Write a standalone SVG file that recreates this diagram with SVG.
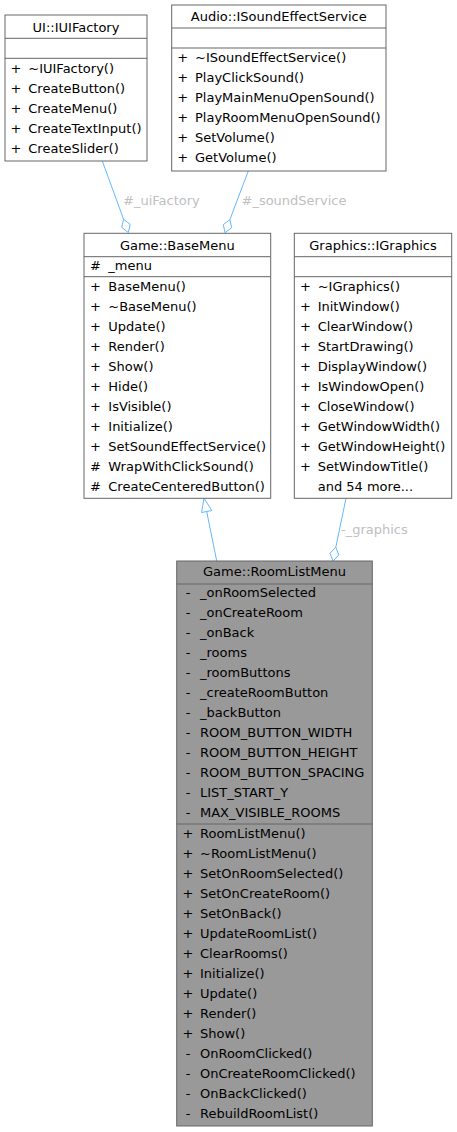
<svg xmlns="http://www.w3.org/2000/svg" width="457" height="1132" viewBox="0 0 457 1132">
<style>
text{font-family:"DejaVu Sans","Liberation Sans",sans-serif;font-size:13px;fill:#000}
.t{text-anchor:middle}
.s{text-anchor:middle}
.box{fill:#fff;stroke:#666;stroke-width:1}
.cur{fill:#999;stroke:#666;stroke-width:1}
.sep{stroke:#666;stroke-width:1;fill:none}
.e{stroke:#63b8ff;stroke-width:1;fill:none}
.ah{stroke:#63b8ff;stroke-width:1;fill:#fff}
.lbl{fill:#c0c0c0}
</style>
<g id="edges">
<path class="e" d="M102.3,161 L123.6,219.3"/>
<polygon class="ah" points="128.3,232.5 130.2,224.4 123.6,219.3 121.7,227.4"/>
<text class="lbl" x="123" y="205">#_uiFactory</text>
<path class="e" d="M248.3,171 L229.9,219.6"/>
<polygon class="ah" points="225,232.7 231.7,227.7 229.9,219.6 223.3,224.6"/>
<text class="lbl" x="241.5" y="205">#_soundService</text>
<path class="e" d="M346,498.3 L335.8,547.3"/>
<polygon class="ah" points="333,561 338.8,555 335.8,547.3 330,553.2"/>
<text class="lbl" x="341" y="533.5">-_graphics</text>
<path class="e" d="M216.7,561 L206.7,511.5"/>
<polygon class="ah" points="204,498.3 211.8,510.5 201.6,512.5"/>
</g>
<g id="IUIFactory">
<rect class="box" x="5" y="15" width="142" height="146"/>
<path class="sep" d="M5,38.3H147M5,58.3H147"/>
<text class="t" x="76" y="31.5">UI::IUIFactory</text>
<text class="s" x="16" y="72.5">+</text><text x="28.3" y="72.5">~IUIFactory()</text>
<text class="s" x="16" y="92.5">+</text><text x="28.3" y="92.5">CreateButton()</text>
<text class="s" x="16" y="112.5">+</text><text x="28.3" y="112.5">CreateMenu()</text>
<text class="s" x="16" y="132.5">+</text><text x="28.3" y="132.5">CreateTextInput()</text>
<text class="s" x="16" y="152.5">+</text><text x="28.3" y="152.5">CreateSlider()</text>
</g>
<g id="ISoundEffectService">
<rect class="box" x="171.7" y="5" width="214.3" height="166"/>
<path class="sep" d="M171.7,28H386M171.7,48H386"/>
<text class="t" x="278.8" y="21">Audio::ISoundEffectService</text>
<text class="s" x="182.7" y="62">+</text><text x="195" y="62">~ISoundEffectService()</text>
<text class="s" x="182.7" y="82">+</text><text x="195" y="82">PlayClickSound()</text>
<text class="s" x="182.7" y="102">+</text><text x="195" y="102">PlayMainMenuOpenSound()</text>
<text class="s" x="182.7" y="122">+</text><text x="195" y="122">PlayRoomMenuOpenSound()</text>
<text class="s" x="182.7" y="142">+</text><text x="195" y="142">SetVolume()</text>
<text class="s" x="182.7" y="162">+</text><text x="195" y="162">GetVolume()</text>
</g>
<g id="BaseMenu">
<rect class="box" x="84" y="233.3" width="186.7" height="265"/>
<path class="sep" d="M84,256.7H270.7M84,276.7H270.7"/>
<text class="t" x="177.3" y="250">Game::BaseMenu</text>
<text class="s" x="95.5" y="270.2">#</text><text x="108.3" y="270.2">_menu</text>
<text class="s" x="95.5" y="290.5">+</text><text x="108.3" y="290.5">BaseMenu()</text>
<text class="s" x="95.5" y="310.5">+</text><text x="108.3" y="310.5">~BaseMenu()</text>
<text class="s" x="95.5" y="330.5">+</text><text x="108.3" y="330.5">Update()</text>
<text class="s" x="95.5" y="350.5">+</text><text x="108.3" y="350.5">Render()</text>
<text class="s" x="95.5" y="370.5">+</text><text x="108.3" y="370.5">Show()</text>
<text class="s" x="95.5" y="390.5">+</text><text x="108.3" y="390.5">Hide()</text>
<text class="s" x="95.5" y="410.5">+</text><text x="108.3" y="410.5">IsVisible()</text>
<text class="s" x="95.5" y="430.5">+</text><text x="108.3" y="430.5">Initialize()</text>
<text class="s" x="95.5" y="450.5">+</text><text x="108.3" y="450.5">SetSoundEffectService()</text>
<text class="s" x="95.5" y="470.5">#</text><text x="108.3" y="470.5">WrapWithClickSound()</text>
<text class="s" x="95.5" y="490.5">#</text><text x="108.3" y="490.5">CreateCenteredButton()</text>
</g>
<g id="IGraphics">
<rect class="box" x="294.3" y="233.3" width="157.4" height="265"/>
<path class="sep" d="M294.3,256.7H451.7M294.3,276.7H451.7"/>
<text class="t" x="373" y="250">Graphics::IGraphics</text>
<text class="s" x="305.5" y="290.5">+</text><text x="317.7" y="290.5">~IGraphics()</text>
<text class="s" x="305.5" y="310.5">+</text><text x="317.7" y="310.5">InitWindow()</text>
<text class="s" x="305.5" y="330.5">+</text><text x="317.7" y="330.5">ClearWindow()</text>
<text class="s" x="305.5" y="350.5">+</text><text x="317.7" y="350.5">StartDrawing()</text>
<text class="s" x="305.5" y="370.5">+</text><text x="317.7" y="370.5">DisplayWindow()</text>
<text class="s" x="305.5" y="390.5">+</text><text x="317.7" y="390.5">IsWindowOpen()</text>
<text class="s" x="305.5" y="410.5">+</text><text x="317.7" y="410.5">CloseWindow()</text>
<text class="s" x="305.5" y="430.5">+</text><text x="317.7" y="430.5">GetWindowWidth()</text>
<text class="s" x="305.5" y="450.5">+</text><text x="317.7" y="450.5">GetWindowHeight()</text>
<text class="s" x="305.5" y="470.5">+</text><text x="317.7" y="470.5">SetWindowTitle()</text>
<text x="317.7" y="490.5">and 54 more...</text>
</g>
<g id="RoomListMenu">
<rect class="cur" x="176.7" y="561" width="195.6" height="565"/>
<path class="sep" d="M176.7,584H372.3M176.7,824H372.3"/>
<text class="t" x="274.5" y="576">Game::RoomListMenu</text>
<text class="s" x="188" y="597">-</text><text x="200" y="597">_onRoomSelected</text>
<text class="s" x="188" y="617">-</text><text x="200" y="617">_onCreateRoom</text>
<text class="s" x="188" y="637">-</text><text x="200" y="637">_onBack</text>
<text class="s" x="188" y="657">-</text><text x="200" y="657">_rooms</text>
<text class="s" x="188" y="677">-</text><text x="200" y="677">_roomButtons</text>
<text class="s" x="188" y="697">-</text><text x="200" y="697">_createRoomButton</text>
<text class="s" x="188" y="717">-</text><text x="200" y="717">_backButton</text>
<text class="s" x="188" y="737">-</text><text x="200" y="737">ROOM_BUTTON_WIDTH</text>
<text class="s" x="188" y="757">-</text><text x="200" y="757">ROOM_BUTTON_HEIGHT</text>
<text class="s" x="188" y="777">-</text><text x="200" y="777">ROOM_BUTTON_SPACING</text>
<text class="s" x="188" y="797">-</text><text x="200" y="797">LIST_START_Y</text>
<text class="s" x="188" y="817">-</text><text x="200" y="817">MAX_VISIBLE_ROOMS</text>
<text class="s" x="188" y="838">+</text><text x="200" y="838">RoomListMenu()</text>
<text class="s" x="188" y="858">+</text><text x="200" y="858">~RoomListMenu()</text>
<text class="s" x="188" y="878">+</text><text x="200" y="878">SetOnRoomSelected()</text>
<text class="s" x="188" y="898">+</text><text x="200" y="898">SetOnCreateRoom()</text>
<text class="s" x="188" y="918">+</text><text x="200" y="918">SetOnBack()</text>
<text class="s" x="188" y="938">+</text><text x="200" y="938">UpdateRoomList()</text>
<text class="s" x="188" y="958">+</text><text x="200" y="958">ClearRooms()</text>
<text class="s" x="188" y="978">+</text><text x="200" y="978">Initialize()</text>
<text class="s" x="188" y="998">+</text><text x="200" y="998">Update()</text>
<text class="s" x="188" y="1018">+</text><text x="200" y="1018">Render()</text>
<text class="s" x="188" y="1038">+</text><text x="200" y="1038">Show()</text>
<text class="s" x="188" y="1058">-</text><text x="200" y="1058">OnRoomClicked()</text>
<text class="s" x="188" y="1078">-</text><text x="200" y="1078">OnCreateRoomClicked()</text>
<text class="s" x="188" y="1098">-</text><text x="200" y="1098">OnBackClicked()</text>
<text class="s" x="188" y="1118">-</text><text x="200" y="1118">RebuildRoomList()</text>
</g>
</svg>
